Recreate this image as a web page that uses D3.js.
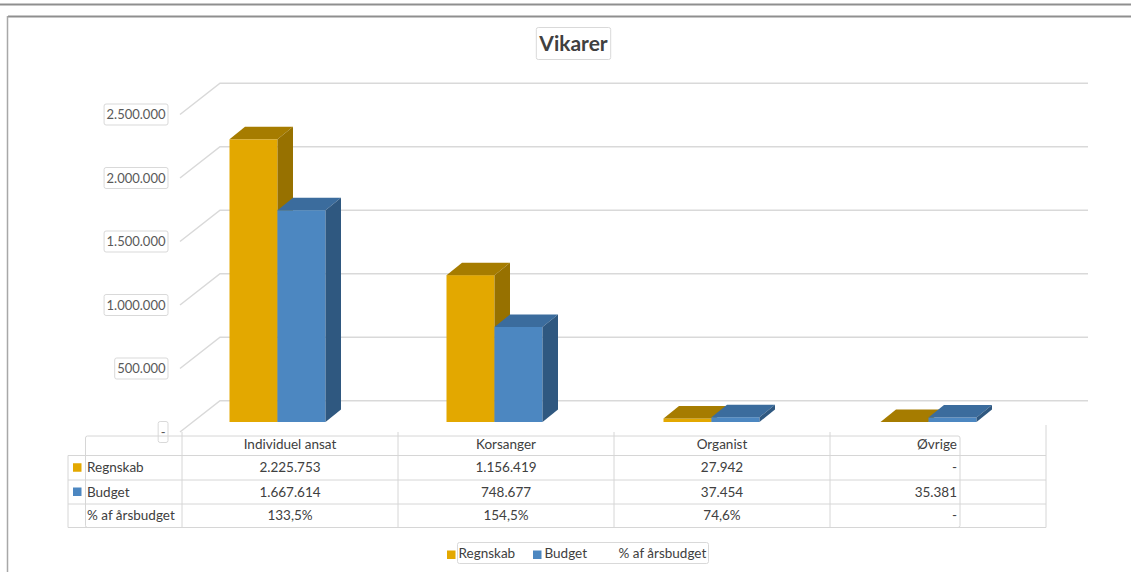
<!DOCTYPE html>
<html>
<head>
<meta charset="utf-8">
<script src="https://cdn.jsdelivr.net/npm/d3@7"></script>
<style>
  body { margin: 0; background: #fff; }
  svg { display: block; font-family: Lato, "Open Sans", sans-serif; }
</style>
</head>
<body>
<div id="chart"></div>
<script>
// data
const categories = ["Individuel ansat", "Korsanger", "Organist", "Øvrige"];
const series = ["Regnskab", "Budget"];
const regnskab = [2225753, 1156419, 27942, 0];
const budget = [1667614, 748677, 37454, 35381];
const yTicks = [0, 500000, 1000000, 1500000, 2000000, 2500000];

const W = 1131, H = 572;
const dk = d3.formatLocale({decimal: ",", thousands: ".", grouping: [3], currency: ["", " kr"], percent: "%"});
const fmtNum = v => v === 0 ? "-" : dk.format(",.0f")(v);
const fmtPct = (a, b) => a === 0 ? "-" : dk.format(".1%")(a / b);

const colors = {
  Regnskab: {front: "#e3a800", top: "#a67c00", side: "#977100"},
  Budget:   {front: "#4c87c1", top: "#3b6c9d", side: "#2f5880"}
};

const svg = d3.select("#chart").append("svg")
    .attr("width", W).attr("height", H);

// page frame from the screenshot
svg.append("line").attr("x1", 0).attr("x2", W).attr("y1", 4.5).attr("y2", 4.5)
    .attr("stroke", "#8f8f8f").attr("stroke-width", 2);
svg.append("line").attr("x1", 8).attr("x2", W).attr("y1", 16.5).attr("y2", 16.5)
    .attr("stroke", "#8f8f8f").attr("stroke-width", 2);
svg.append("line").attr("x1", 7.5).attr("x2", 7.5).attr("y1", 16).attr("y2", H)
    .attr("stroke", "#a8a8a8").attr("stroke-width", 1.5);

// scales
const y = d3.scaleLinear().domain([0, 2500000]).range([432, 114.5]);
const depth = [40, -31.3];          // front plane -> back wall
const barDrop = -10;                // bar front face sits a bit behind the front plane
const barDepth = [15.5, -12.5];
const col = d3.scaleBand().domain(categories).range([182, 1046]);
const xBar = d3.scaleBand().domain(categories).range([169, 1037]);
const xSub = d3.scaleBand().domain(series).range([-48, 48]);

// gridlines: side wall diagonal + back wall
const grid = svg.append("g").attr("stroke", "#d9d9d9").attr("stroke-width", 1.5).attr("fill", "none");
yTicks.forEach(t => {
  const x0 = 180, y0 = y(t);
  grid.append("path")
      .attr("d", `M${x0},${y0}L${x0 + depth[0]},${y0 + depth[1]}H1088`);
});

// y axis labels in small boxes
const axisG = svg.append("g").attr("font-size", 13).attr("fill", "#595959");
yTicks.forEach(t => {
  const g = axisG.append("g");
  const txt = g.append("text")
      .attr("x", 165.5).attr("y", y(t)).attr("dy", "0.35em")
      .attr("text-anchor", "end")
      .text(fmtNum(t));
  const w = txt.node().getComputedTextLength();
  g.insert("rect", "text")
      .attr("x", 165.5 - w - 2.5).attr("y", y(t) - 10.5)
      .attr("width", w + 5).attr("height", 21).attr("rx", 2)
      .attr("fill", "#fff").attr("stroke", "#d9d9d9");
});

// 3D bars
const bars = svg.append("g");
categories.forEach((c, i) => {
  const cx = xBar(c) + xBar.bandwidth() / 2;
  [["Regnskab", regnskab[i]], ["Budget", budget[i]]].forEach(([s, v]) => {
    const x0 = cx + xSub(s);
    const x1 = x0 + xSub.bandwidth();
    const yb = y(0) + barDrop;
    const yt = y(v) + barDrop;
    const [dx, dy] = barDepth;
    const col_ = colors[s];
    bars.append("rect").attr("x", x0).attr("y", yt)
        .attr("width", x1 - x0).attr("height", Math.max(0, yb - yt))
        .attr("fill", col_.front);
    bars.append("path")
        .attr("d", `M${x0},${yt}L${x0 + dx},${yt + dy}H${x1 + dx}L${x1},${yt}Z`)
        .attr("fill", col_.top);
    bars.append("path")
        .attr("d", `M${x1},${yt}L${x1 + dx},${yt + dy}V${yb + dy}L${x1},${yb}Z`)
        .attr("fill", col_.side);
  });
});

// title
const titleG = svg.append("g");
const title = titleG.append("text")
    .attr("x", 573.5).attr("y", 44).attr("dy", "0.35em")
    .attr("text-anchor", "middle")
    .attr("font-size", 21).attr("font-weight", "bold").attr("fill", "#404040")
    .text("Vikarer");
const tw = title.node().getComputedTextLength();
titleG.insert("rect", "text")
    .attr("x", 573.5 - tw / 2 - 3).attr("y", 27.5)
    .attr("width", tw + 6).attr("height", 32).attr("rx", 2)
    .attr("fill", "#fff").attr("stroke", "#d9d9d9");

// data table
const table = svg.append("g");
const lineC = "#d6d6d6";
const rowY = [432, 455.5, 480, 504, 527.5];
table.append("rect").attr("x", 85.5).attr("y", 436).attr("width", 874.5).attr("height", 91.5)
    .attr("fill", "none").attr("stroke", lineC).attr("rx", 2);
rowY.slice(1).forEach(ry => {
  table.append("line").attr("x1", 68).attr("x2", 1046).attr("y1", ry).attr("y2", ry)
      .attr("stroke", lineC);
});
table.append("line").attr("x1", 68).attr("x2", 68).attr("y1", 455.5).attr("y2", 527.5).attr("stroke", lineC);
categories.forEach(c => {
  table.append("line").attr("x1", col(c)).attr("x2", col(c)).attr("y1", 432).attr("y2", 527.5)
      .attr("stroke", lineC);
});
table.append("line").attr("x1", 1046).attr("x2", 1046).attr("y1", 425).attr("y2", 527.5).attr("stroke", lineC);

const rows = [
  {label: "Regnskab", key: "Regnskab", vals: regnskab.map(fmtNum)},
  {label: "Budget", key: "Budget", vals: budget.map(fmtNum)},
  {label: "% af årsbudget", key: null, vals: regnskab.map((v, i) => fmtPct(v, budget[i]))}
];
const tText = table.append("g").attr("font-size", 13.5).attr("fill", "#404040");
const cellX = (c, i) => i === categories.length - 1 ? 957 : col(c) + col.bandwidth() / 2;
const cellAnchor = i => i === categories.length - 1 ? "end" : "middle";
categories.forEach((c, i) => {
  tText.append("text").attr("x", cellX(c, i)).attr("y", (rowY[0] + rowY[1]) / 2 + 1).attr("dy", "0.35em")
      .attr("text-anchor", cellAnchor(i)).text(c);
});
rows.forEach((r, ri) => {
  const cy = (rowY[ri + 1] + rowY[ri + 2]) / 2;
  if (r.key) {
    table.append("rect").attr("x", 73).attr("y", cy - 4.5).attr("width", 8.5).attr("height", 8.5)
        .attr("fill", colors[r.key].front);
  }
  tText.append("text").attr("x", 87).attr("y", cy).attr("dy", "0.35em").text(r.label);
  r.vals.forEach((v, i) => {
    tText.append("text").attr("x", cellX(categories[i], i)).attr("y", cy).attr("dy", "0.35em")
        .attr("text-anchor", cellAnchor(i)).text(v);
  });
});

// legend
const leg = svg.append("g").attr("font-size", 13.5).attr("fill", "#404040");
leg.append("rect").attr("x", 457.5).attr("y", 542.5).attr("width", 251).attr("height", 21)
    .attr("fill", "#fff").attr("stroke", "#d9d9d9").attr("rx", 2);
const legItems = [
  {label: "Regnskab", key: "Regnskab", x: 447},
  {label: "Budget", key: "Budget", x: 533},
  {label: "% af årsbudget", key: null, x: 607}
];
legItems.forEach(d => {
  if (d.key) leg.append("rect").attr("x", d.x).attr("y", 550.5).attr("width", 8.5).attr("height", 8.5)
      .attr("fill", colors[d.key].front);
  leg.append("text").attr("x", d.x + 11.5).attr("y", 553).attr("dy", "0.35em").text(d.label);
});
</script>
</body>
</html>
